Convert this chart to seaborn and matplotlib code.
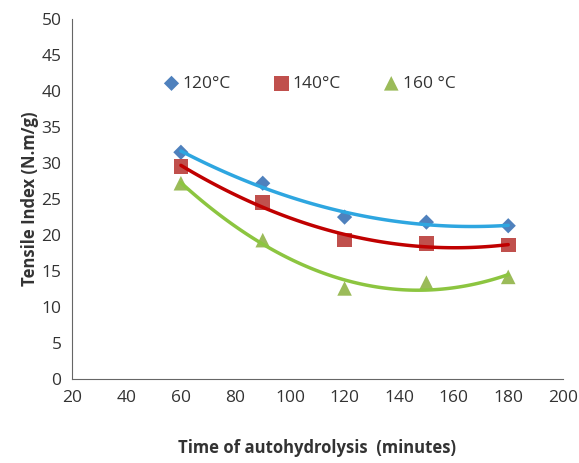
import numpy as np
import pandas as pd
import matplotlib
matplotlib.use('Agg')
import matplotlib.pyplot as plt
import seaborn as sns

# Dados
tempo = [60, 90, 120, 150, 180]
t120 = [31.5, 27.2, 22.5, 21.8, 21.3]
t140 = [29.5, 24.5, 19.3, 18.8, 18.6]
t160 = [27.2, 19.3, 12.6, 13.4, 14.2]
series = ['120°C', '140°C', '160 °C']

sns.set_style('white')
plt.rcParams['font.family'] = ['Open Sans', 'DejaVu Sans']

fig = plt.figure(figsize=(5.79, 4.63), dpi=100)
ax = fig.add_axes([0.124, 0.181, 0.848, 0.778])

estilos = [
    (t120, '#4F81BD', 'D', 60, '#2EA6E0'),
    (t140, '#C0504D', 's', 110, '#C00000'),
    (t160, '#9BBB59', '^', 110, '#8CC540'),
]

for (valores, cor, marcador, tam, cor_linha), nome in zip(estilos, series):
    df = pd.DataFrame({'x': tempo, 'y': valores})
    sns.scatterplot(data=df, x='x', y='y', marker=marcador, s=tam, color=cor,
                    edgecolor='none', label=nome, ax=ax, zorder=2)
    sns.regplot(data=df, x='x', y='y', order=2, ci=None, scatter=False,
                line_kws={'color': cor_linha, 'lw': 2.5, 'zorder': 3}, ax=ax)

ax.set_xlim(20, 200)
ax.set_ylim(0, 50)
ax.set_xticks(np.arange(20, 201, 20))
ax.set_yticks(np.arange(0, 51, 5))
ax.tick_params(axis='both', direction='out', length=4, width=0.8,
               color='#555555', labelsize=12.5, labelcolor='#333333')
for lado in ['top', 'right']:
    ax.spines[lado].set_visible(False)
for lado in ['left', 'bottom']:
    ax.spines[lado].set_color('#666666')
    ax.spines[lado].set_linewidth(0.8)

ax.set_xlabel('Time of autohydrolysis  (minutes)', fontsize=12, fontweight='bold',
              color='#333333', labelpad=24)
ax.set_ylabel('Tensile Index (N.m/g)', fontsize=12, fontweight='bold',
              color='#333333', labelpad=2)

ax.legend(loc='center left', bbox_to_anchor=(0.15, 0.82), ncol=3, frameon=False,
          fontsize=12.5, handletextpad=0.05, handlelength=1.2, columnspacing=2.3,
          labelcolor='#333333')

plt.savefig('out.png', dpi=100)
plt.close()
